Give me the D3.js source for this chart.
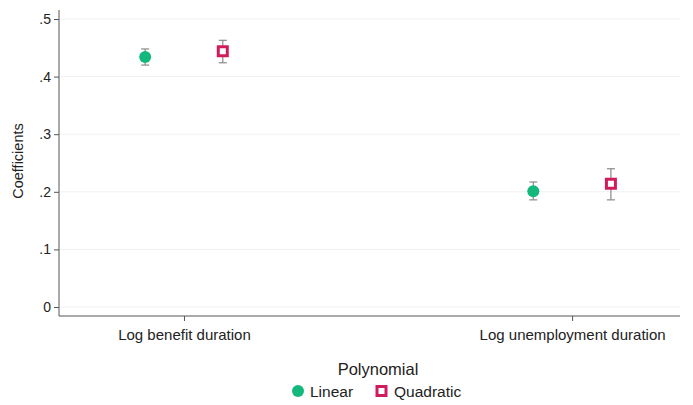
<!DOCTYPE html>
<html>
<head>
<meta charset="utf-8">
<script src="https://cdn.jsdelivr.net/npm/d3@7"></script>
<style>
  body { margin: 0; background: #fff; }
  svg { display: block; font-family: "Liberation Sans", Arial, sans-serif; }
</style>
</head>
<body>
<svg id="chart" width="693" height="405"></svg>
<script>
// Outcomes on the x axis
const categories = ["Log benefit duration", "Log unemployment duration"];
// Point estimates and 95% CI per polynomial
const linearCoef = [0.434, 0.201];
const linearLo = [0.420, 0.186];
const linearHi = [0.448, 0.217];
const quadCoef = [0.444, 0.214];
const quadLo = [0.424, 0.186];
const quadHi = [0.463, 0.240];
const yTicks = [0, 0.1, 0.2, 0.3, 0.4, 0.5];
const yTickLabels = ["0", ".1", ".2", ".3", ".4", ".5"];

const COLORS = { linear: "#15b87c", quad: "#d01c5c", ci: "#8a8a8a" };

const svg = d3.select("#chart");
const plotL = 59, plotR = 680, plotT = 10, plotB = 316;

const x = d3.scaleLinear().domain([0.678, 2.278]).range([plotL, plotR]);
const y = d3.scaleLinear().domain([0, 0.5]).range([307, 19]);

// faint grid
svg.append("g")
  .selectAll("line")
  .data(yTicks)
  .join("line")
  .attr("x1", plotL + 1).attr("x2", plotR)
  .attr("y1", d => y(d)).attr("y2", d => y(d))
  .attr("stroke", "#f0f0f0").attr("stroke-width", 1);

// Y axis
const yAxis = svg.append("g")
  .attr("transform", `translate(${plotL},0)`)
  .call(d3.axisLeft(y).tickValues(yTicks).tickSize(5).tickPadding(3)
    .tickFormat((d, i) => yTickLabels[i]));
yAxis.select(".domain").attr("d", `M0,${plotT}V${plotB}`).attr("stroke", "#555");
yAxis.selectAll("line").attr("stroke", "#555");
yAxis.selectAll("text").attr("fill", "#222").attr("font-size", 14)
  .attr("font-family", "Liberation Sans, Arial, sans-serif");

// X axis
const xAxis = svg.append("g")
  .attr("transform", `translate(0,${plotB})`)
  .call(d3.axisBottom(x).tickValues([1, 2]).tickSize(5).tickPadding(8)
    .tickFormat((d) => categories[d - 1]));
xAxis.select(".domain").attr("d", `M${plotL},0H${plotR}`).attr("stroke", "#555");
xAxis.selectAll("line").attr("stroke", "#555");
xAxis.selectAll("text").attr("fill", "#222").attr("font-size", 15)
  .attr("font-family", "Liberation Sans, Arial, sans-serif");

// Y title
svg.append("text")
  .attr("transform", `translate(23,161) rotate(-90)`)
  .attr("text-anchor", "middle")
  .attr("fill", "#222").attr("font-size", 14.5)
  .text("Coefficients");

// CI + markers
const series = [
  { key: "linear", coef: linearCoef, lo: linearLo, hi: linearHi, off: -0.1 },
  { key: "quad", coef: quadCoef, lo: quadLo, hi: quadHi, off: 0.1 },
];

series.forEach((s) => {
  const g = svg.append("g");
  s.coef.forEach((c, i) => {
    const cx = x(i + 1 + s.off);
    g.append("line")
      .attr("x1", cx).attr("x2", cx)
      .attr("y1", y(s.lo[i])).attr("y2", y(s.hi[i]))
      .attr("stroke", COLORS.ci).attr("stroke-width", 1.2);
    [s.lo[i], s.hi[i]].forEach((v) => {
      g.append("line")
        .attr("x1", cx - 4).attr("x2", cx + 4)
        .attr("y1", y(v)).attr("y2", y(v))
        .attr("stroke", COLORS.ci).attr("stroke-width", 1.2);
    });
    if (s.key === "linear") {
      g.append("circle")
        .attr("cx", cx).attr("cy", y(c)).attr("r", 6)
        .attr("fill", COLORS.linear);
    } else {
      g.append("rect")
        .attr("x", cx - 4.5).attr("y", y(c) - 4.5)
        .attr("width", 9).attr("height", 9)
        .attr("fill", "#fff")
        .attr("stroke", COLORS.quad).attr("stroke-width", 3);
    }
  });
});

// Legend
svg.append("text")
  .attr("x", 378).attr("y", 375)
  .attr("text-anchor", "middle")
  .attr("fill", "#222").attr("font-size", 16.5)
  .text("Polynomial");

const leg = svg.append("g").attr("transform", "translate(0,391)");
leg.append("circle").attr("cx", 298).attr("cy", 0).attr("r", 6).attr("fill", COLORS.linear);
leg.append("text").attr("x", 310).attr("y", 5.5).attr("fill", "#222").attr("font-size", 15.5).text("Linear");
leg.append("rect").attr("x", 377).attr("y", -4.5).attr("width", 9).attr("height", 9)
  .attr("fill", "#fff").attr("stroke", COLORS.quad).attr("stroke-width", 3);
leg.append("text").attr("x", 394).attr("y", 5.5).attr("fill", "#222").attr("font-size", 15.5).text("Quadratic");
</script>
</body>
</html>
